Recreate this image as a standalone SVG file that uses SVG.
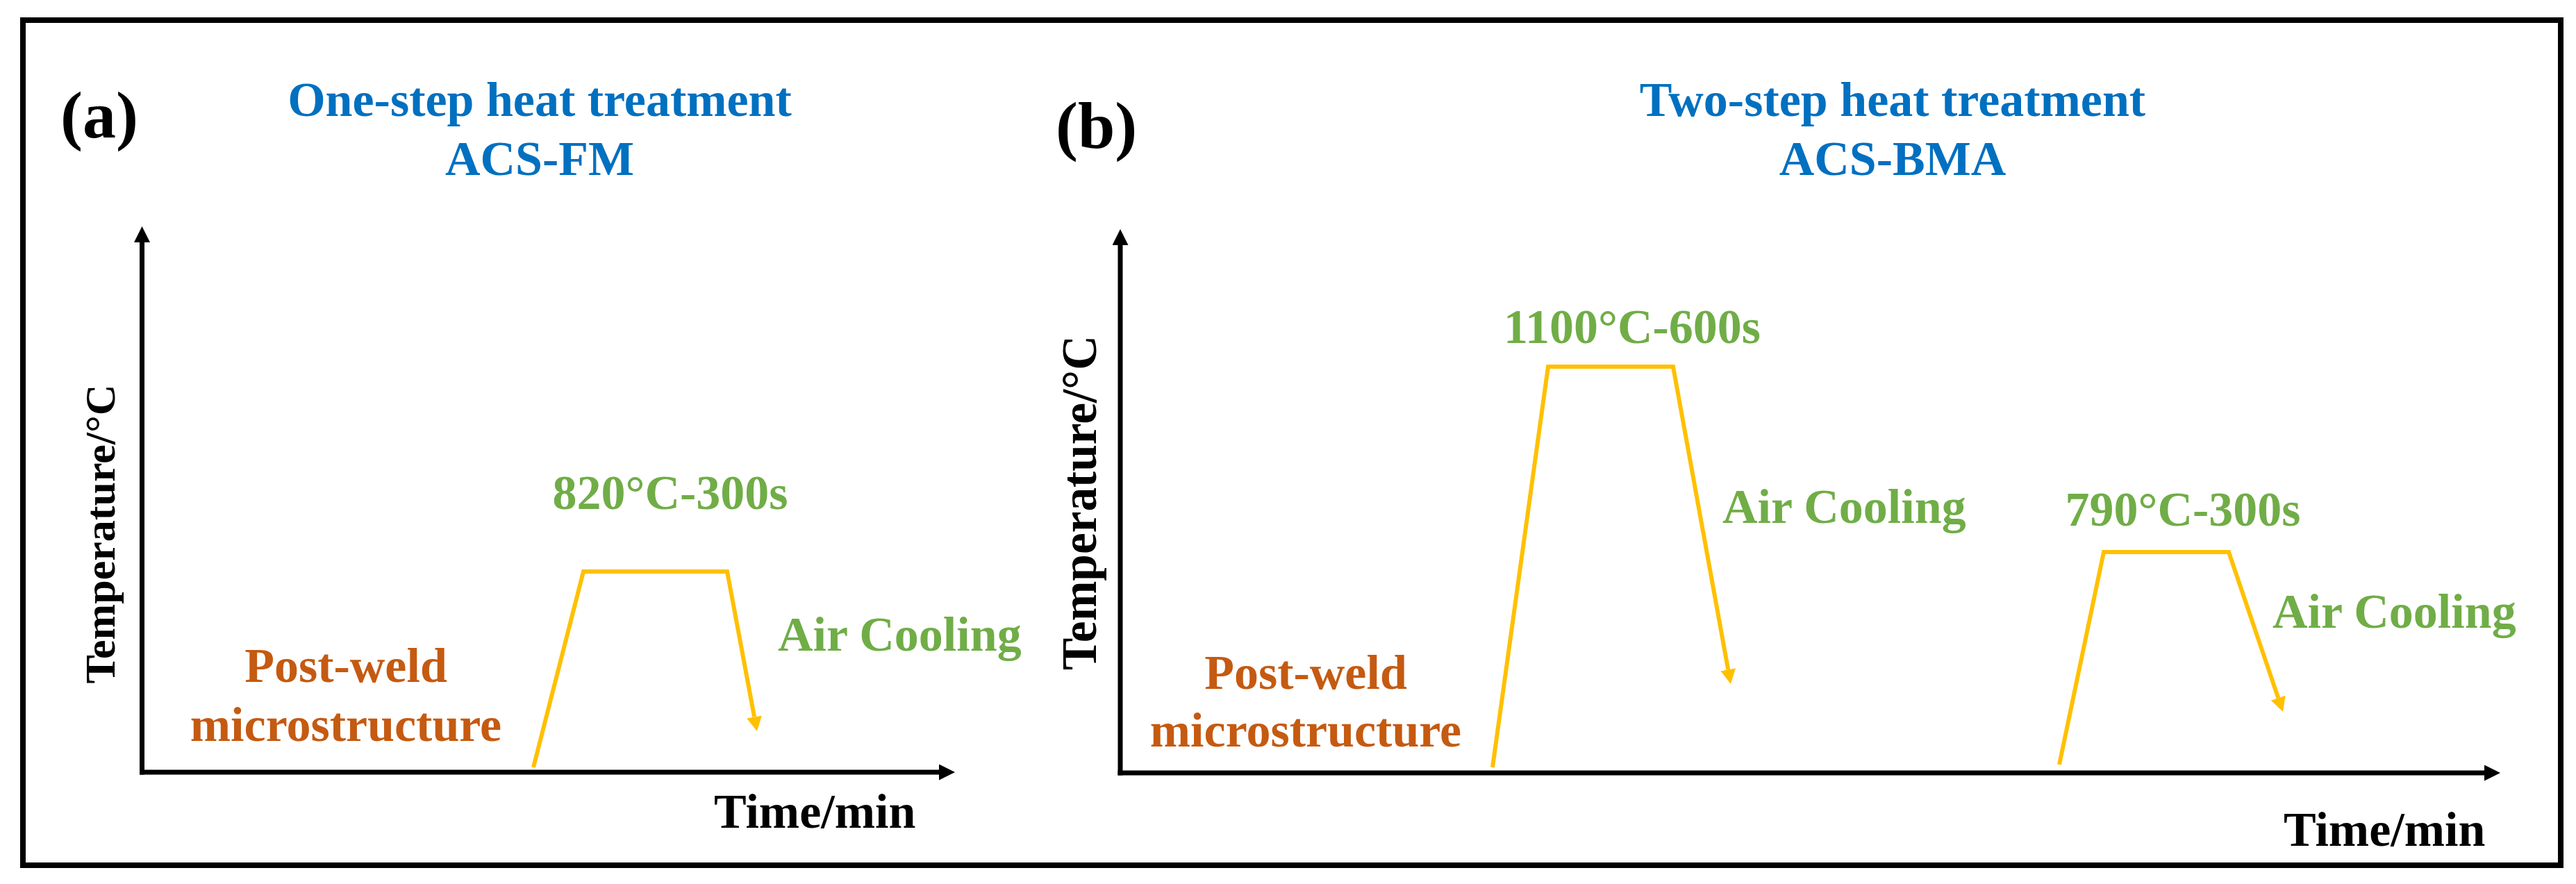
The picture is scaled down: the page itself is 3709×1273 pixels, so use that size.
<svg xmlns="http://www.w3.org/2000/svg" width="3709" height="1273" viewBox="0 0 3709 1273">
<style>
text{font-family:"Liberation Serif","Times New Roman",serif;font-weight:bold;}
.lbl{font-size:96px;fill:#000;}
.title{font-size:70px;fill:#0070C0;text-anchor:middle;}
.axis{font-size:70px;fill:#000;}
.pw{font-size:70px;fill:#C55A11;text-anchor:middle;}
.grn{font-size:70px;fill:#70AD47;}
.mid{text-anchor:middle;}
.ax{stroke:#000;stroke-width:7;fill:none;}
.ht{stroke:#FFC000;stroke-width:6;fill:none;stroke-linejoin:miter;}
</style>
<defs>
<marker id="blk" markerUnits="userSpaceOnUse" markerWidth="23" markerHeight="23" refX="0" refY="11.5" orient="auto">
<path d="M0,0 L23,11.5 L0,23 z" fill="#000"/>
</marker>
<marker id="yel" markerUnits="userSpaceOnUse" markerWidth="22" markerHeight="22" refX="0" refY="11" orient="auto">
<path d="M0,0 L21,11 L0,22 z" fill="#FFC000"/>
</marker>
</defs>
<rect x="0" y="0" width="3709" height="1273" fill="#fff"/>
<rect id="frame" x="33" y="29" width="3654" height="1217" fill="none" stroke="#000" stroke-width="8"/>

<g id="connectors">
<path class="ax" d="M204.5,1115.5 L204.5,349" marker-end="url(#blk)"/>
<path class="ax" d="M201,1112 L1352,1112" marker-end="url(#blk)"/>
<path class="ax" d="M1613,1116.5 L1613,353" marker-end="url(#blk)"/>
<path class="ax" d="M1609.5,1113 L3577,1113" marker-end="url(#blk)"/>
<polyline class="ht" points="768,1105 840,823 1047,823 1086.1,1032.4" marker-end="url(#yel)"/>
<polyline class="ht" points="2149,1105 2229,528 2409,528 2488.2,964.3" marker-end="url(#yel)"/>
<polyline class="ht" points="2965,1101 3029,795 3209,795 3280.3,1005.1" marker-end="url(#yel)"/>
</g>

<g id="panel-a">
<text id="label-a" class="lbl" x="87" y="198">(a)</text>
<g id="title-a"><text class="title" x="777" y="167">One-step heat treatment</text><text class="title" x="777" y="252">ACS-FM</text></g>
<text id="ylabel-a" class="axis mid" font-size="62" transform="translate(165,769) rotate(-90)" style="font-size:62px">Temperature/°C</text>
<text id="xlabel-a" class="axis" x="1028" y="1192">Time/min</text>
<g id="postweld-a"><text class="pw" x="498" y="982">Post-weld</text><text class="pw" x="498" y="1067">microstructure</text></g>
<text id="hold-a" class="grn mid" x="965" y="733">820°C-300s</text>
<text id="cool-a" class="grn" x="1120" y="937">Air Cooling</text>
</g>

<g id="panel-b">
<text id="label-b" class="lbl" x="1520" y="213">(b)</text>
<g id="title-b"><text class="title" x="2725" y="167">Two-step heat treatment</text><text class="title" x="2725" y="252">ACS-BMA</text></g>
<text id="ylabel-b" class="axis mid" transform="translate(1578,724) rotate(-90)" style="font-size:72px" textLength="482" lengthAdjust="spacingAndGlyphs">Temperature/°C</text>
<text id="xlabel-b" class="axis" x="3288" y="1218">Time/min</text>
<g id="postweld-b"><text class="pw" x="1880" y="992">Post-weld</text><text class="pw" x="1880" y="1075">microstructure</text></g>
<text id="hold-b1" class="grn mid" x="2350" y="494">1100°C-600s</text>
<text id="cool-b1" class="grn" x="2480" y="753">Air Cooling</text>
<text id="hold-b2" class="grn mid" x="3143" y="757">790°C-300s</text>
<text id="cool-b2" class="grn" x="3272" y="904">Air Cooling</text>
</g>
</svg>
